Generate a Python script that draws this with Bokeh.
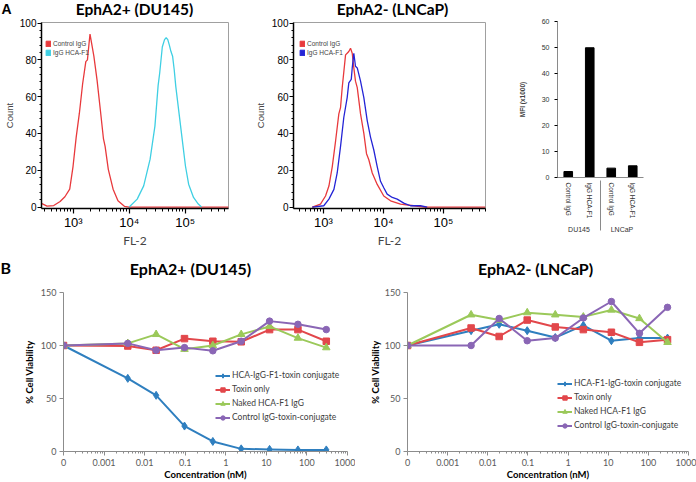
import math
from bokeh.plotting import figure
from bokeh.layouts import column, row
from bokeh.models import (Range1d, FactorRange, Label, Legend, LegendItem,
                          CustomJSTickFormatter, FixedTicker, SingleIntervalTicker)
from bokeh.embed import file_html
from bokeh.resources import INLINE

# ---------------- Panel A: flow cytometry histograms ----------------
# DU145 (EphA2+)
du145_ctrl_fl2 = [269, 339, 447, 581, 708, 863, 989, 1127, 1285, 1469, 1675, 1791, 1914, 1991,
                  2128, 2333, 2661, 3041, 3467, 3707, 4227, 5152, 6295, 8204, 10000, 600000]
du145_ctrl_count = [2, 0.5, 0.8, 3, 5.6, 9.7, 22, 38, 51, 67, 79, 80, 89, 94,
                    89, 82, 69, 53, 37, 33, 20.5, 9.7, 3.4, 0.4, 0, 0]
du145_hca_fl2 = [10000, 13900, 18160, 23660, 28840, 32890, 35160, 39080, 42850, 45810, 48980,
                 52240, 55850, 59700, 63830, 68080, 77800, 88720, 101400, 115600, 141300,
                 172200, 196300]
du145_hca_count = [0, 4.3, 11.5, 26, 44, 66, 73, 87, 91, 92, 91,
                   88, 84.5, 82, 74.6, 65.6, 51, 36.8, 22.3, 12.4, 5.2,
                   1.6, 0]
# LNCaP (EphA2-)
lncap_ctrl_fl2 = [650, 890, 1080, 1230, 1400, 1590, 1800, 1920, 2050, 2330, 2480, 2640, 2820,
                  3010, 3200, 3410, 3650, 4140, 4700, 5210, 5690, 6490, 7850, 10100, 13100,
                  19200, 32000, 47000, 501000]
lncap_ctrl_count = [0, 1.6, 6, 11.4, 22, 36, 50.6, 54, 65, 82.7, 83.6, 84.5, 86.3,
                    83.6, 75.6, 68.4, 64.9, 50.6, 40, 29, 25.7, 18.5, 12.3, 6, 3.4,
                    1.6, 0.7, 0, 0]
lncap_hca_fl2 = [650, 1010, 1230, 1490, 1690, 1920, 2180, 2480, 2640, 2900, 3010, 3200, 3410,
                 3650, 4140, 4700, 5350, 6070, 6890, 7850, 8910, 10100, 11500, 14000, 16900,
                 21800, 28200, 41400, 53500]
lncap_hca_count = [0, 0.7, 4.3, 9.6, 18.5, 32.8, 48.8, 59.5, 67.5, 69.4, 75.6, 83.6, 76.5,
                   75.6, 68.4, 59.5, 47, 38, 31, 22, 14, 10.5, 7, 5.2, 4.3,
                   2.1, 0.7, 0.7, 0]
flow_legend = ["Control IgG", "IgG HCA-F1"]
flow_major_ticks = [1000, 10000, 100000]

# MFI bar chart
mfi_cell_lines = ["DU145", "DU145", "LNCaP", "LNCaP"]
mfi_antibodies = ["Control IgG", "IgG HCA-F1", "Control IgG", "IgG HCA-F1"]
mfi_values = [2.3, 49.9, 3.6, 4.5]

# ---------------- Panel B: cell viability ----------------
conc_nM = [0, 0.00384, 0.0192, 0.096, 0.48, 2.4, 12, 60, 300]
conc_tick_values = [0.0001, 0.001, 0.01, 0.1, 1, 10, 100, 1000]
ZERO_POSITION = 0.0001  # the axis position Excel labels "0"

du145_conjugate = [100, 69, 53, 24, 9.5, 2.5, 2, 1.5, 1.5]
du145_toxin = [100, 99.5, 95.5, 106.5, 104, 103.5, 115, 115, 104]
du145_naked = [100, 102, 110.5, 96.5, 100, 110.5, 118, 107, 98]
du145_ctrl_conj = [100, 102, 95.5, 98, 95, 104, 123, 120, 115]

lncap_conjugate = [100, 114, 120, 114, 107.5, 119, 104.5, 107, 107]
lncap_toxin = [100, 116.5, 108.5, 124, 117.5, 115, 112.5, 103, 105.5]
lncap_naked = [100, 129, 124, 131, 129, 127, 133.5, 125.5, 103]
lncap_ctrl_conj = [100, 100, 125.5, 104.5, 107, 126, 141.5, 111.5, 136]

series_names_du145 = ["HCA-IgG-F1-toxin conjugate", "Toxin only", "Naked HCA-F1 IgG",
                      "Control IgG-toxin-conjugate"]
series_names_lncap = ["HCA-F1-IgG-toxin conjugate", "Toxin only", "Naked HCA-F1 IgG",
                      "Control IgG-toxin-conjugate"]

HEAD_A_H = 17
ROW_A_H = 234
HEAD_B_H = 31
ROW_B_H = 200
TITLE_FONT = "Lato"
ARIAL = "Liberation Sans"


def header(height, texts):
    """A strip whose frame is the whole canvas, holding panel letters and titles."""
    h = figure(width=696, height=height, x_range=Range1d(0, 1), y_range=Range1d(0, 1),
               output_backend="svg", toolbar_location=None,
               x_axis_location=None, y_axis_location=None,
               min_border_left=0, min_border_right=0, min_border_top=0, min_border_bottom=0)
    h.frame_align = False
    h.outline_line_color = None
    h.grid.visible = False
    for text, x, y, size, font, align in texts:
        h.add_layout(Label(x=x, y=y, x_units="screen", y_units="screen", text=text,
                           text_font=font, text_font_size=size, text_font_style="bold",
                           text_align=align, text_baseline="middle", text_color="black"))
    return h


def flow_panel(width, b_left, b_right, x_start, x_end, series, count_standoff, legend_xy):
    p = figure(width=width, height=ROW_A_H, x_axis_type="log",
               x_range=Range1d(x_start, x_end), y_range=Range1d(-0.8, 100.3),
               output_backend="svg", toolbar_location=None,
               min_border_left=b_left, min_border_right=b_right,
               min_border_top=5, min_border_bottom=43)
    p.frame_align = False
    p.outline_line_color = "#a0a0a0"
    p.grid.visible = False
    items = []
    for xs, ys, color, name in series:
        p.line(xs, ys, line_color=color, line_width=1.3)
        sw = p.quad(left=[math.nan], right=[math.nan], top=[math.nan], bottom=[math.nan],
                    fill_color=color, line_color=color)
        items.append(LegendItem(label=name, renderers=[sw]))
    leg = Legend(items=items, location=legend_xy, orientation="vertical",
                 glyph_width=6, glyph_height=7, label_height=8, spacing=1, padding=0,
                 margin=0, label_standoff=2, label_text_font_size="6.5px",
                 label_text_font=ARIAL, border_line_alpha=0, background_fill_alpha=0)
    p.add_layout(leg)

    minors = [m * 10 ** k for k in range(2, 6) for m in range(2, 10)]
    xa = p.xaxis[0]
    xa.ticker = FixedTicker(ticks=flow_major_ticks, minor_ticks=minors)
    xa.formatter = CustomJSTickFormatter(code="""
        const e = Math.round(Math.log10(tick));
        const sup = {"2": "\u00b2", "3": "\u00b3", "4": "\u2074", "5": "\u2075", "6": "\u2076"};
        return "10" + (sup[String(e)] || String(e));
    """)
    xa.major_label_text_font = ARIAL
    xa.major_label_text_font_size = "13px"
    xa.major_label_text_color = "black"
    xa.major_label_standoff = 1
    xa.axis_line_width = 1.5
    xa.axis_line_color = "black"
    xa.major_tick_out = 5
    xa.major_tick_in = 0
    xa.minor_tick_out = 3
    xa.minor_tick_in = 0
    xa.major_tick_line_width = 1.2
    xa.axis_label = "FL-2"
    xa.axis_label_text_font = TITLE_FONT
    xa.axis_label_text_font_size = "12px"
    xa.axis_label_text_font_style = "normal"
    xa.axis_label_standoff = 0

    ya = p.yaxis[0]
    ya.ticker = SingleIntervalTicker(interval=20, num_minor_ticks=5)
    ya.major_label_text_font = ARIAL
    ya.major_label_text_font_size = "10px"
    ya.major_label_text_color = "black"
    ya.major_label_standoff = 1
    ya.axis_line_width = 1.5
    ya.axis_line_color = "black"
    ya.major_tick_out = 4
    ya.major_tick_in = 0
    ya.minor_tick_out = 2
    ya.minor_tick_in = 0
    ya.axis_label = "Count"
    ya.axis_label_text_font = ARIAL
    ya.axis_label_text_font_size = "9.5px"
    ya.axis_label_text_font_style = "normal"
    ya.axis_label_standoff = count_standoff
    return p


a1 = flow_panel(248, 34, 20, 270, 597000,
                [(du145_ctrl_fl2, du145_ctrl_count, "#e8393c", flow_legend[0]),
                 (du145_hca_fl2, du145_hca_count, "#3fcfe3", flow_legend[1])],
                2, (4, 152))
a2 = flow_panel(252, 45, 15, 316, 501000,
                [(lncap_ctrl_fl2, lncap_ctrl_count, "#e8393c", flow_legend[0]),
                 (lncap_hca_fl2, lncap_hca_count, "#2424d6", flow_legend[1])],
                3, (6, 152))

# MFI bar chart
factors = list(zip(mfi_cell_lines, mfi_antibodies))
pb = figure(width=196, height=ROW_A_H,
            x_range=FactorRange(*factors, factor_padding=0, group_padding=0, range_padding=0),
            y_range=Range1d(0, 60), output_backend="svg", toolbar_location=None,
            min_border_left=57, min_border_right=53, min_border_top=4, min_border_bottom=74)
pb.frame_align = False
pb.vbar(x=factors, top=mfi_values, width=0.4, fill_color="black", line_color="black")
pb.outline_line_color = None
pb.grid.visible = False
bx = pb.xaxis[0]
bx.major_label_orientation = "vertical"
bx.major_label_text_font = ARIAL
bx.major_label_text_font_size = "6.5px"
bx.major_label_text_color = "#333333"
bx.major_label_standoff = 5
bx.group_text_font = ARIAL
bx.group_text_font_size = "7px"
bx.group_text_font_style = "normal"
bx.group_text_color = "#333333"
bx.separator_line_color = "#8a8a8a"
bx.separator_line_width = 1
bx.major_tick_in = 0
bx.major_tick_out = 0
bx.axis_line_color = "#8a8a8a"
by = pb.yaxis[0]
by.ticker = SingleIntervalTicker(interval=10, num_minor_ticks=0)
by.major_label_text_font = ARIAL
by.major_label_text_font_size = "7px"
by.major_label_text_color = "#333333"
by.major_label_standoff = 5
by.major_tick_out = 3
by.major_tick_in = 0
by.axis_line_color = "#8a8a8a"
by.axis_label = "MFI (x1000)"
by.axis_label_text_font = ARIAL
by.axis_label_text_font_size = "6.5px"
by.axis_label_text_font_style = "bold"
by.axis_label_standoff = 13


def viability_panel(width, b_left, b_right, values, names, ylab_standoff, legend_xy):
    p = figure(width=width, height=ROW_B_H, x_axis_type="log",
               x_range=Range1d(1e-4, 1e3), y_range=Range1d(0, 150),
               output_backend="svg", toolbar_location=None,
               min_border_left=b_left, min_border_right=b_right,
               min_border_top=10, min_border_bottom=30)
    p.frame_align = False
    p.outline_line_color = None
    p.grid.visible = False
    xs = [c if c > 0 else ZERO_POSITION for c in conc_nM]
    styles = [("#2f7fbf", "diamond", 8), ("#e2474b", "square", 6.5),
              ("#9bc95a", "triangle", 7.5), ("#8a66b5", "circle", 6.5)]
    items = []
    for vals, (color, marker, size), name in zip(values, styles, names):
        r1 = p.line(xs, vals, line_color=color, line_width=2)
        r2 = p.scatter(xs, vals, marker=marker, size=size, fill_color=color, line_color=color)
        items.append(LegendItem(label=name, renderers=[r1, r2]))
    leg = Legend(items=items, location=legend_xy, orientation="vertical",
                 glyph_width=15, glyph_height=11, label_height=11, spacing=3, padding=0,
                 margin=0, label_standoff=2, label_text_font_size="8.5px",
                 label_text_font=TITLE_FONT, label_text_color="#404040",
                 border_line_alpha=0, background_fill_alpha=0)
    p.add_layout(leg)

    minors = [m * 10 ** k for k in range(-4, 3) for m in range(2, 10)]
    xa = p.xaxis[0]
    xa.ticker = FixedTicker(ticks=conc_tick_values, minor_ticks=minors)
    xa.formatter = CustomJSTickFormatter(code="""
        if (tick < 0.0005) { return "0"; }
        return String(Number(tick.toPrecision(1)));
    """)
    ya = p.yaxis[0]
    ya.ticker = SingleIntervalTicker(interval=50, num_minor_ticks=0)
    for ax in (xa, ya):
        ax.major_label_text_font = TITLE_FONT
        ax.major_label_text_font_size = "9px"
        ax.major_label_text_color = "#595959"
        ax.axis_line_color = "#8c8c8c"
        ax.major_tick_line_color = "#8c8c8c"
        ax.minor_tick_line_color = "#8c8c8c"
        ax.major_tick_out = 4
        ax.major_tick_in = 0
        ax.minor_tick_out = 2
        ax.minor_tick_in = 0
        ax.major_label_standoff = 3
        ax.axis_label_text_font = TITLE_FONT
        ax.axis_label_text_font_size = "9.5px"
        ax.axis_label_text_font_style = "bold"
        ax.axis_label_text_color = "black"
    xa.axis_label = "Concentration (nM)"
    xa.axis_label_standoff = 0
    ya.axis_label = "% Cell Viability"
    ya.axis_label_standoff = ylab_standoff
    return p


b1 = viability_panel(355, 63, 8,
                     [du145_conjugate, du145_toxin, du145_naked, du145_ctrl_conj],
                     series_names_du145, 3, (152, 28.5))
b2 = viability_panel(341, 52, 8,
                     [lncap_conjugate, lncap_toxin, lncap_naked, lncap_ctrl_conj],
                     series_names_lncap, 1, (150, 20.5))

head_a = header(HEAD_A_H, [("A", 1, 9, "14px", ARIAL, "left"),
                           ("EphA2+ (DU145)", 134, 8.5, "15.5px", TITLE_FONT, "center"),
                           ("EphA2- (LNCaP)", 392, 8.5, "15.5px", TITLE_FONT, "center")])
head_b = header(HEAD_B_H, [("B", 0, 15, "16px", TITLE_FONT, "left"),
                           ("EphA2+ (DU145)", 190, 14, "16px", TITLE_FONT, "center"),
                           ("EphA2- (LNCaP)", 535, 14, "16px", TITLE_FONT, "center")])

layout = column(head_a, row(a1, a2, pb), head_b, row(b1, b2))
open("out.html", "w").write(file_html(layout, INLINE))
